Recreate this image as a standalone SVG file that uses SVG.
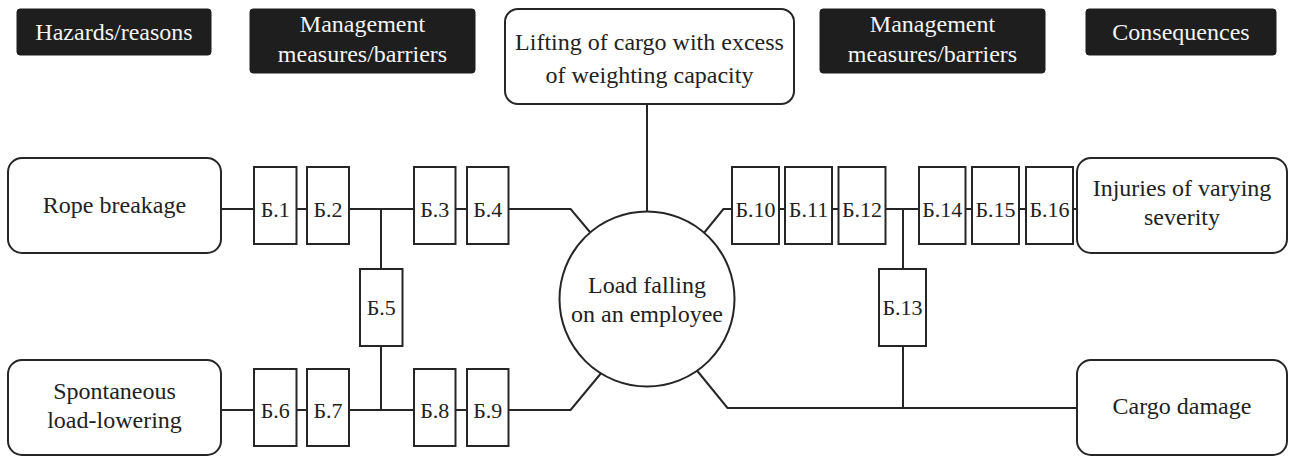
<svg xmlns="http://www.w3.org/2000/svg" width="1290" height="457" viewBox="0 0 1290 457">
  <style>
    .hdr rect { fill: #1e1e1e; stroke: #1e1e1e; stroke-width: 1; }
    .hdr text { fill: #f4f4f4; }
    text { font-family: "Liberation Serif", "Times New Roman", serif; font-size: 24px; fill: #222; text-anchor: middle; }
    .box { fill: #fff; stroke: #262626; stroke-width: 2; }
    .bar rect { fill: #fff; stroke: #262626; stroke-width: 2; }
    .bar text { font-size: 22px; }
    #connectors { fill: none; stroke: #262626; stroke-width: 2; }
  </style>

  <!-- column headers -->
  <g id="hdr-hazards" class="hdr">
    <rect x="17" y="9" width="194" height="46" rx="3"/>
    <text x="114" y="40">Hazards/reasons</text>
  </g>
  <g id="hdr-measures-left" class="hdr">
    <rect x="250" y="9" width="225" height="64" rx="3"/>
    <text x="362.5" y="32">Management</text>
    <text x="362.5" y="62">measures/barriers</text>
  </g>
  <g id="hdr-measures-right" class="hdr">
    <rect x="820" y="9" width="225" height="64" rx="3"/>
    <text x="932.5" y="32">Management</text>
    <text x="932.5" y="62">measures/barriers</text>
  </g>
  <g id="hdr-consequences" class="hdr">
    <rect x="1086" y="9" width="190" height="46" rx="3"/>
    <text x="1181" y="40">Consequences</text>
  </g>

  <!-- connectors (drawn under the nodes) -->
  <g id="connectors">
    <!-- top cause: lifting -> event -->
    <path d="M647 104 V230"/>
    <!-- rope breakage chain -->
    <path d="M221 209 H570.6 L600 244"/>
    <path d="M381 209 V410"/>
    <!-- spontaneous lowering chain -->
    <path d="M221 410 H570.6 L612 360"/>
    <!-- injuries chain -->
    <path d="M1077 209 H723.4 L695 244"/>
    <path d="M903 209 V408"/>
    <!-- cargo damage -->
    <path d="M1077 408 H727.5 L690 362"/>
  </g>

  <!-- causes -->
  <g id="cause-lifting">
    <rect class="box" x="505" y="9" width="289" height="95" rx="13"/>
    <text x="649.5" y="50">Lifting of cargo with excess</text>
    <text x="649.5" y="83">of weighting capacity</text>
  </g>
  <g id="cause-rope">
    <rect class="box" x="8" y="158" width="213" height="95" rx="14"/>
    <text x="114.5" y="213">Rope breakage</text>
  </g>
  <g id="cause-lowering">
    <rect class="box" x="8" y="360" width="213" height="95" rx="14"/>
    <text x="114.5" y="399">Spontaneous</text>
    <text x="114.5" y="428">load-lowering</text>
  </g>

  <!-- top event -->
  <g id="event">
    <circle class="box" cx="647" cy="299" r="87.5"/>
    <text x="647" y="293">Load falling</text>
    <text x="647" y="322">on an employee</text>
  </g>

  <!-- consequences -->
  <g id="cons-injuries">
    <rect class="box" x="1077" y="158" width="210" height="95" rx="14"/>
    <text x="1182" y="196">Injuries of varying</text>
    <text x="1182" y="225">severity</text>
  </g>
  <g id="cons-damage">
    <rect class="box" x="1077" y="360" width="210" height="95" rx="14"/>
    <text x="1182" y="414">Cargo damage</text>
  </g>

  <!-- barriers, left side -->
  <g id="b1" class="bar"><rect x="254" y="167" width="42.5" height="77"/><text x="275.2" y="216.5">Б.1</text></g>
  <g id="b2" class="bar"><rect x="307" y="167" width="42" height="77"/><text x="328" y="216.5">Б.2</text></g>
  <g id="b3" class="bar"><rect x="414" y="167" width="41.5" height="77"/><text x="434.8" y="216.5">Б.3</text></g>
  <g id="b4" class="bar"><rect x="467" y="167" width="41.5" height="77"/><text x="487.8" y="216.5">Б.4</text></g>
  <g id="b5" class="bar"><rect x="360" y="269" width="42.5" height="77"/><text x="381.2" y="315">Б.5</text></g>
  <g id="b6" class="bar"><rect x="254" y="369" width="42.5" height="77"/><text x="275.2" y="417.5">Б.6</text></g>
  <g id="b7" class="bar"><rect x="307" y="369" width="42" height="77"/><text x="328" y="417.5">Б.7</text></g>
  <g id="b8" class="bar"><rect x="414" y="369" width="41.5" height="77"/><text x="434.8" y="417.5">Б.8</text></g>
  <g id="b9" class="bar"><rect x="467" y="369" width="41.5" height="77"/><text x="487.8" y="417.5">Б.9</text></g>

  <!-- barriers, right side -->
  <g id="b10" class="bar"><rect x="732" y="167" width="47" height="77"/><text x="755.5" y="216.5">Б.10</text></g>
  <g id="b11" class="bar"><rect x="785" y="167" width="47" height="77"/><text x="808.5" y="216.5">Б.11</text></g>
  <g id="b12" class="bar"><rect x="838.5" y="167" width="47" height="77"/><text x="862" y="216.5">Б.12</text></g>
  <g id="b13" class="bar"><rect x="879" y="269" width="47" height="77"/><text x="902.5" y="315">Б.13</text></g>
  <g id="b14" class="bar"><rect x="919" y="167" width="46.5" height="77"/><text x="942.2" y="216.5">Б.14</text></g>
  <g id="b15" class="bar"><rect x="972" y="167" width="47" height="77"/><text x="995.5" y="216.5">Б.15</text></g>
  <g id="b16" class="bar"><rect x="1026" y="167" width="47" height="77"/><text x="1049.5" y="216.5">Б.16</text></g>
</svg>
